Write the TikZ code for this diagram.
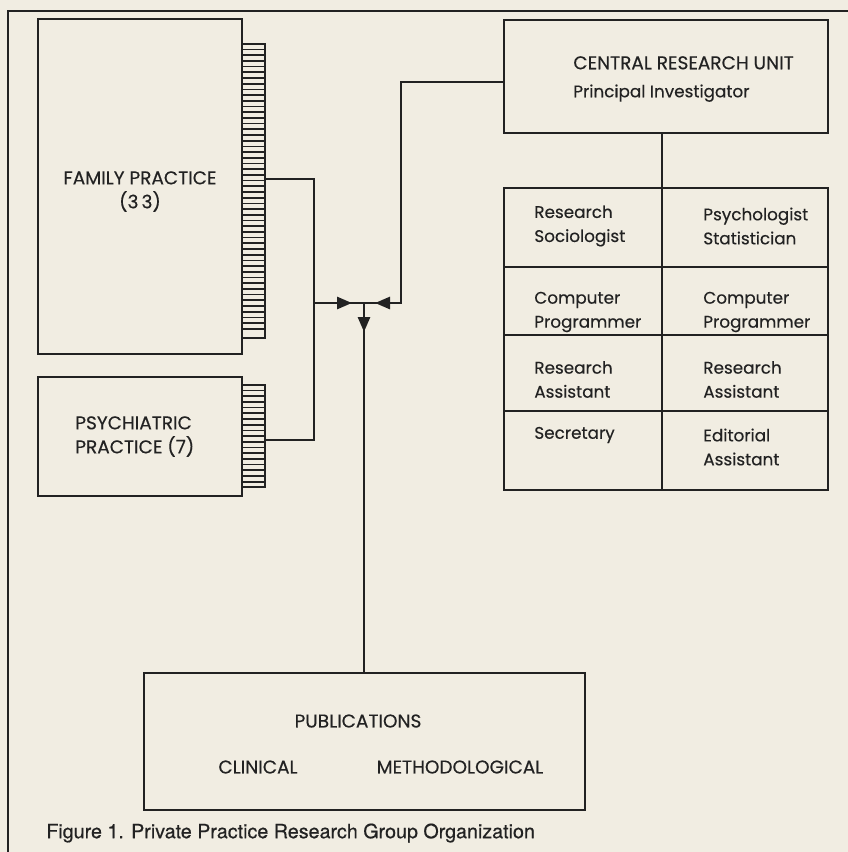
\documentclass[tikz,border=0pt]{standalone}
\usepackage{fontspec}
\setmainfont{Poppins}[FakeBold=0.35]
\newfontfamily\captionfont{TeX Gyre Heros}[FakeBold=0.5]
\usetikzlibrary{arrows.meta}
\definecolor{paperCream}{RGB}{241,237,226}
\definecolor{inkGray}{RGB}{34,34,34}

\tikzset{capsText/.style={font=\fontsize{18.5}{24}\selectfont}}

\begin{document}
\begin{tikzpicture}[x=1pt, y=-1pt, color=inkGray, line width=2.7pt,
		font=\fontsize{16.8}{24}\selectfont]
		% Paper
		\fill[paperCream] (0,0) rectangle (848,852);
		\useasboundingbox (0,0) rectangle (848,852);
		\draw[line width=2pt] (8,852) -- (8,11) -- (848,11);
		
		% Practices
		\begin{scope}[every node/.style={draw, inner sep=0pt, outer sep=0pt}]
			\node (family) at (140,186.5) [minimum width=204pt, minimum height=335pt] {};
			\node (psych) at (140,436.5) [minimum width=204pt, minimum height=119pt] {};
			\node (famTab) at (253.5,191) [minimum width=23pt, minimum height=294pt] {};
			\node (psychTab) at (253.5,436) [minimum width=23pt, minimum height=102pt] {};
		\end{scope}
		\foreach \y in {49.5,55.2,...,334} \draw[line width=1.7pt] (242,\y) -- (265,\y);
		\foreach \y in {390.5,396.2,...,483} \draw[line width=1.7pt] (242,\y) -- (265,\y);
		\node (famText) at (140,191.5) [capsText, align=center, inner sep=0pt] {FAMILY PRACTICE\\(3\,3)};
		\node (psychText) at (74,436.5) [capsText, anchor=west, align=left, inner sep=0pt] {PSYCHIATRIC\\PRACTICE (7)};
		
		% Central unit
		\node (cru) at (666,76.5) [draw, inner sep=0pt, minimum width=324pt, minimum height=113pt] {};
		\node (cruText) at (572,79) [anchor=west, align=left, inner sep=0pt] {{\fontsize{18.5}{24}\selectfont CENTRAL RESEARCH UNIT}\\[4pt]Principal Investigator};
		
		% Staff cells
		\begin{scope}[every node/.style={draw, inner sep=0pt, outer sep=0pt}]
			\node (cellA) at (583,227.5) [minimum width=158pt, minimum height=79pt] {};
			\node (cellB) at (745,227.5) [minimum width=166pt, minimum height=79pt] {};
			\node (cellC) at (583,301) [minimum width=158pt, minimum height=68pt] {};
			\node (cellD) at (745,301) [minimum width=166pt, minimum height=68pt] {};
			\node (cellE) at (583,373) [minimum width=158pt, minimum height=76pt] {};
			\node (cellF) at (745,373) [minimum width=166pt, minimum height=76pt] {};
			\node (cellG) at (583,450.5) [minimum width=158pt, minimum height=79pt] {};
			\node (cellH) at (745,450.5) [minimum width=166pt, minimum height=79pt] {};
		\end{scope}
		\begin{scope}[every node/.style={anchor=west, align=left, inner sep=0pt}]
			\node (textA) at (533,226) {Research\\Sociologist};
			\node (textB) at (702,226) {Psychologist\\Statistician};
			\node (textC) at (533,312) {Computer\\Programmer};
			\node (textD) at (702,312) {Computer\\Programmer};
			\node (textE) at (533,379.5) {Research\\Assistant};
			\node (textF) at (702,379.5) {Research\\Assistant};
			\node (textG) at (533,435) {Secretary};
			\node (textH) at (702,447) {Editorial\\Assistant};
		\end{scope}
		
		% Publications
		\node (pubs) at (364.5,741.5) [draw, inner sep=0pt, minimum width=441pt, minimum height=137pt] {};
		\node (pubText) at (358,721) [capsText] {PUBLICATIONS};
		\node (clinText) at (258,767) [capsText] {CLINICAL};
		\node (methText) at (460,767) [capsText] {METHODOLOGICAL};
		
		% Links
		\coordinate (hub) at (364,303);
		\coordinate (famTurn) at (314,179);
		\coordinate (psychTurn) at (314,440);
		\coordinate (leftRail) at (314,303);
		\coordinate (cruTurn) at (401,82);
		\coordinate (rightRail) at (401,303);
		\draw (famTab.east |- famTurn) -- (famTurn) -- (psychTurn) -- (psychTab.east |- psychTurn);
		\draw (cru.west |- cruTurn) -- (cruTurn) -- (rightRail) -- (leftRail);
		\draw (hub) -- (hub |- pubs.north);
		\draw (cru.south -| cellA.east) -- (cellA.north east);
		\begin{scope}[every path/.style={-{Triangle[length=15pt, width=12pt]}}]
			\draw (leftRail) -- ([xshift=-12pt]hub);
			\draw (rightRail) -- ([xshift=11pt]hub);
			\draw (hub) -- ([yshift=-29pt]hub);
		\end{scope}
		
		% Caption
		\node (caption) at (45,833) [anchor=west, inner sep=0pt, font=\captionfont\fontsize{19.7}{22}\selectfont] {Figure 1. Private Practice Research Group Organization};
	\end{tikzpicture}
\end{document}
